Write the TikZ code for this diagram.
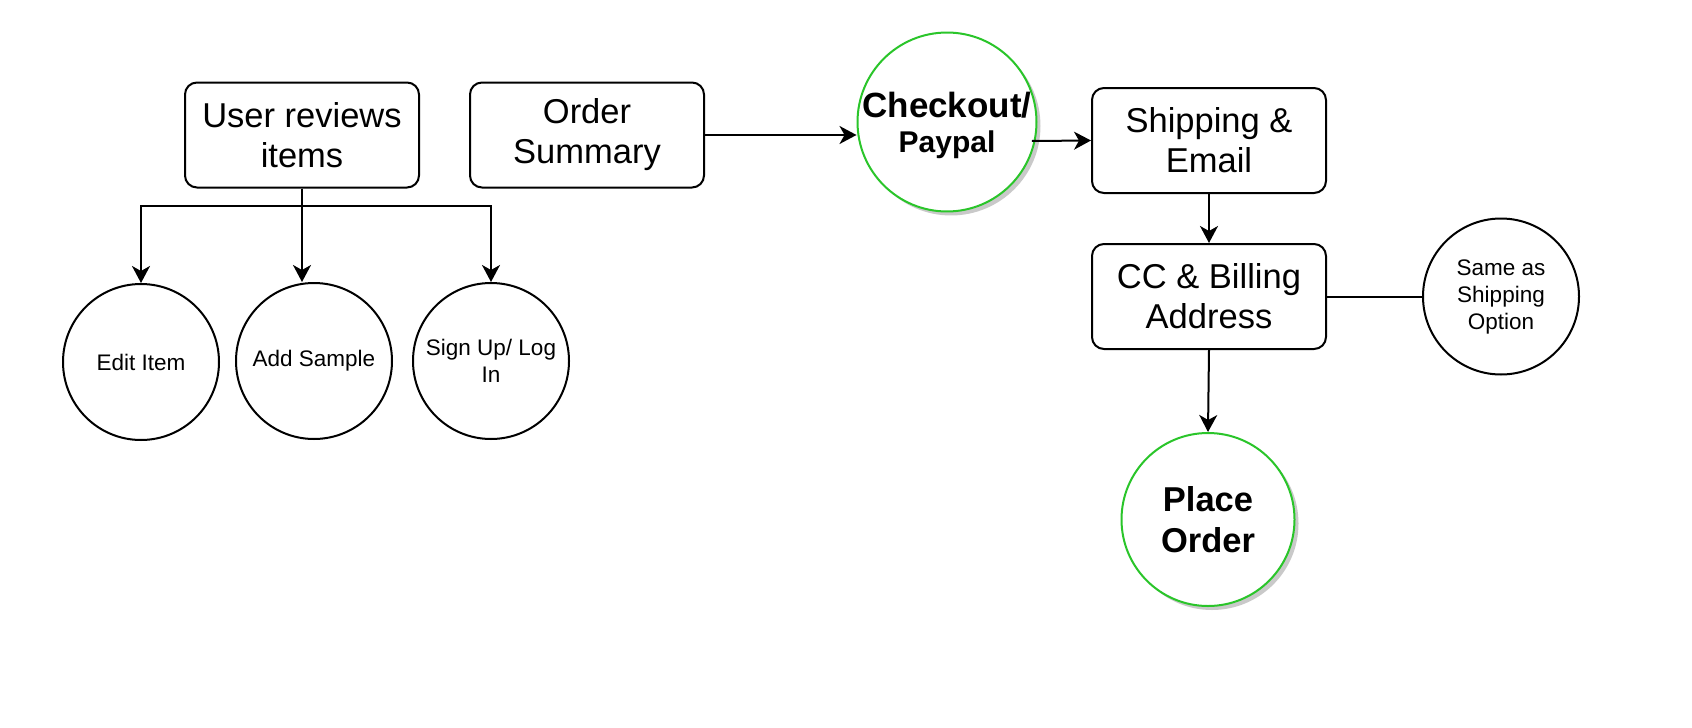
\documentclass[tikz,border=0pt]{standalone}
\usepackage{fontspec}
\setmainfont{Liberation Sans}
\usetikzlibrary{arrows.meta,shadows,calc}
\definecolor{okgreen}{HTML}{2AC52A}
\begin{document}
\begin{tikzpicture}[x=1pt,y=-1pt,
  box/.style={draw=black,line width=2pt,rounded corners=12pt,fill=white,
    minimum width=234pt,minimum height=105pt,inner sep=0pt,align=center,
    font=\fontsize{34.5}{40}\selectfont},
  smallcirc/.style={draw=black,line width=2pt,circle,fill=white,inner sep=0pt,
    minimum size=156pt,align=center,font=\fontsize{22.5}{27}\selectfont},
  greencirc/.style={draw=okgreen,line width=2pt,circle,fill=white,inner sep=0pt,
    align=center,
    drop shadow={shadow xshift=4pt,shadow yshift=-4pt,fill=black!35,opacity=0.6}},
  arr/.style={draw=black,line width=2pt,-{Stealth[length=17pt,width=18pt,inset=5pt]}},
  ln/.style={draw=black,line width=2pt}]
\useasboundingbox (0,0) rectangle (1692,728);
\fill[white] (0,0) rectangle (1692,728);

\node[box] (ur) at (302,135) {User reviews\\items};
\node[box] (os) at (587,135) {Order\\Summary};
\node[greencirc,minimum size=174pt,font=\bfseries\fontsize{35}{35}\selectfont] (co) at (947,122)
  {Checkout/\\{\fontsize{30}{35}\selectfont\raisebox{0pt}[\height][0pt]{Paypal}}};
\node[box] (ship) at (1209,140.5) {Shipping \&\\Email};
\node[box] (cc) at (1209,296.5) {CC \& Billing\\Address};
\node[smallcirc] (same) at (1501,296.5) {Same as\\Shipping\\Option};
\node[greencirc,minimum size=173pt,font=\bfseries\fontsize{34.5}{41}\selectfont] (place) at (1208,519.5) {Place\\Order};

\node[smallcirc] (edit) at (141,362) {Edit Item};
\node[smallcirc] (add) at (314,361) {Add Sample};
\node[smallcirc] (sign) at (491,361) {Sign Up/ Log\\In};

\coordinate (barY) at (0,206);
\draw[arr] (ur.south) -- (ur.south |- barY) -| (edit.north);
\draw[arr] (ur.south) -- (ur.south |- add.north);
\draw[arr] (ur.south) -- (ur.south |- barY) -| (sign.north);

\draw[arr] (os.east) -- (os.east -| co.west);
\draw[arr] ($(co.center)+(84.9,19)$) -- (ship.west);
\draw[arr] (ship.south) -- (cc.north);
\draw[ln] (cc.east) -- (same.west);
\draw[arr] (cc.south) -- (place.north);
\end{tikzpicture}
\end{document}
